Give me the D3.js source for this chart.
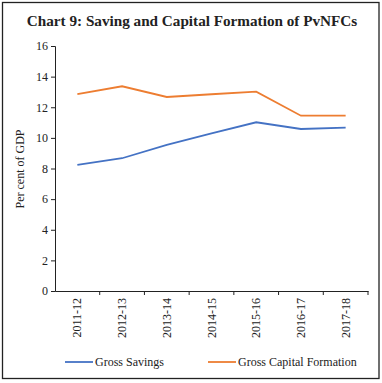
<!DOCTYPE html>
<html><head><meta charset="utf-8">
<script src="https://cdn.jsdelivr.net/npm/d3@7"></script>
<style>
body{margin:0;background:#fff;}
text{font-family:"Liberation Serif","DejaVu Serif",serif;fill:#222;}
</style></head>
<body><svg id="c" width="382" height="383"></svg>
<script>
const categories=["2011-12","2012-13","2013-14","2014-15","2015-16","2016-17","2017-18"];
const grossSavings=[8.23,8.67,9.54,10.3,11.02,10.58,10.67];
const grossCapitalFormation=[12.85,13.37,12.67,12.85,13.02,11.45,11.45];
const yTicks=[0,2,4,6,8,10,12,14,16];
const seriesNames=["Gross Savings","Gross Capital Formation"];
const colors=["#4472C4","#ED7D31"];

const svg=d3.select("#c");
svg.append("rect").attr("x",2.5).attr("y",2.5).attr("width",376.5).attr("height",376).attr("fill","none").attr("stroke","#222").attr("stroke-width",1.3);
svg.append("text").attr("x",192).attr("y",26).attr("text-anchor","middle").attr("font-weight","bold").attr("font-size",15.2).text("Chart 9: Saving and Capital Formation of PvNFCs");

const x=d3.scaleBand().domain(categories).range([55,368]);
const y=d3.scaleLinear().domain([0,16]).range([291,46]);

const yAxis=svg.append("g").attr("transform","translate(55,0)").call(d3.axisLeft(y).tickValues(yTicks).tickSize(4).tickPadding(3));
yAxis.selectAll("text").attr("font-size",12).attr("fill","#333");
yAxis.selectAll("line,path").attr("stroke","#222");

const xAxis=svg.append("g").attr("transform","translate(0,291)").call(d3.axisBottom(x).tickSize(0).tickFormat(""));
xAxis.select("path").attr("stroke","#222");
const bounds=categories.map(c=>x(c)).concat([x.range()[1]]).slice(1);
svg.append("g").selectAll("line").data(bounds).join("line").attr("x1",d=>d).attr("x2",d=>d).attr("y1",291).attr("y2",295).attr("stroke","#222");
svg.append("g").selectAll("text").data(categories).join("text")
 .attr("transform",d=>`translate(${x(d)+x.bandwidth()/2+4},298) rotate(-90)`)
 .attr("text-anchor","end").attr("font-size",12).attr("fill","#333").text(d=>d);

svg.append("text").attr("transform","translate(24,169) rotate(-90)").attr("text-anchor","middle").attr("font-size",12).attr("fill","#333").text("Per cent of GDP");

const line=d3.line().x((d,i)=>x(categories[i])+x.bandwidth()/2).y(d=>y(d));
[grossSavings,grossCapitalFormation].forEach((s,i)=>{
 svg.append("path").datum(s).attr("d",line).attr("fill","none").attr("stroke",colors[i]).attr("stroke-width",1.8);
});

const lx=[65,208];
seriesNames.forEach((n,i)=>{
 svg.append("line").attr("x1",lx[i]).attr("x2",lx[i]+28).attr("y1",362).attr("y2",362).attr("stroke",colors[i]).attr("stroke-width",1.8);
 svg.append("text").attr("x",lx[i]+30).attr("y",366).attr("font-size",12).attr("fill","#333").text(n);
});
</script></body></html>
